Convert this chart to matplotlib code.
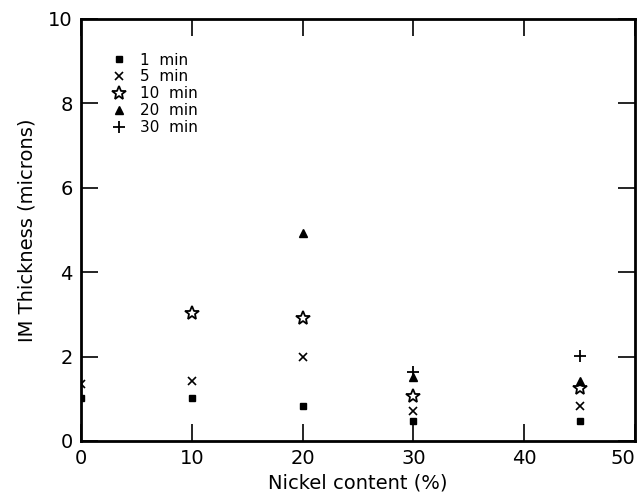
#!/usr/bin/env python3
import matplotlib
matplotlib.use("Agg")
import matplotlib.pyplot as plt

# Data.
Nickel1 = [0, 10, 20, 30, 45]
Thick1 = [1.02, 1.02, 0.83, 0.47, 0.47]
Nickel5 = [0, 10, 20, 30, 45]
Thick5 = [1.35, 1.42, 1.99, 0.71, 0.83]
Nickel10 = [10, 20, 30, 45]
Thick10 = [3.03, 2.91, 1.07, 1.26]
Nickel20 = [20, 30, 45]
Thick20 = [4.93, 1.52, 1.43]
Nickel30 = [30, 45]
Thick30 = [1.63, 2.01]
Labels = ["1  min", "5  min", "10  min", "20  min", "30  min"]

plt.rcParams["font.family"] = "DejaVu Sans"

Fig = plt.figure(figsize=(6.39, 4.97), dpi=100)
Ax = Fig.add_axes([81 / 639, 56 / 497, 554 / 639, 422 / 497])

Ax.plot(Nickel1, Thick1, ls="none", marker="s", ms=5, color="black", label=Labels[0])
Ax.plot(Nickel5, Thick5, ls="none", marker="x", ms=6, mew=1.2, color="black", label=Labels[1])
Ax.plot(Nickel10, Thick10, ls="none", marker="*", ms=10, mew=1.3, mfc="white", color="black", label=Labels[2])
Ax.plot(Nickel20, Thick20, ls="none", marker="^", ms=6, color="black", label=Labels[3])
Ax.plot(Nickel30, Thick30, ls="none", marker="+", ms=9, mew=1.3, color="black", label=Labels[4])

Ax.set_xlim(0, 50)
Ax.set_ylim(0, 10)
Ax.set_xticks([0, 10, 20, 30, 40, 50])
Ax.set_yticks([0, 2, 4, 6, 8, 10])
Ax.tick_params(direction="in", length=12, width=1.2, top=True, right=True, labelsize=14, pad=6)
for Spine in Ax.spines.values():
    Spine.set_linewidth(2)
# Keep the last x label inside the picture.
Ax.get_xticklabels()[-1].set_horizontalalignment("right")
Ax.get_xticklabels()[-1].set_x(50)

Ax.set_xlabel("Nickel content (%)", fontsize=14, labelpad=4)
Ax.set_ylabel("IM Thickness (microns)", fontsize=14, labelpad=8)

Ax.legend(loc="upper left", bbox_to_anchor=(0.043, 0.935), frameon=False, fontsize=11,
          handlelength=1.0, handletextpad=0.9, labelspacing=0.12, borderaxespad=0)

Fig.savefig("out.png", dpi=100)
